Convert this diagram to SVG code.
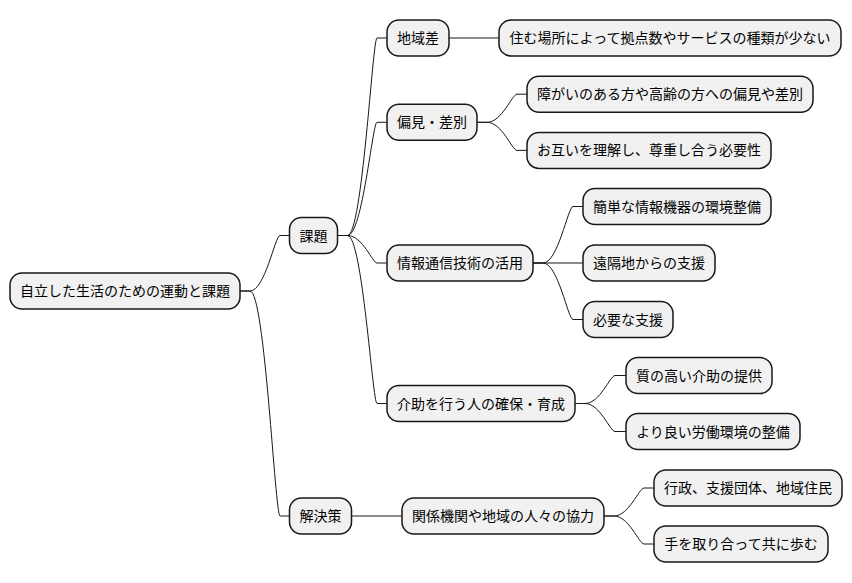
<svg xmlns="http://www.w3.org/2000/svg" width="852" height="583" viewBox="0 0 852 583">
<style>
rect.n{fill:#F1F1F1;stroke:#181818;stroke-width:1.5}
text{font-family:"Noto Sans CJK JP","Noto Sans",sans-serif;font-size:14px;fill:#000;text-anchor:middle}
#connectors path{fill:none;stroke:#181818;stroke-width:1}
</style>
<rect width="852" height="583" fill="#FFFFFF"/>
<g id="connectors">
<path d="M240,291 L250,291 C265,291 275,235.5 280,235.5 L289.5,235.5"/>
<path d="M240,291 L250,291 C265,291 275,516 280,516 L289.5,516"/>
<path d="M337.5,235.5 L347.5,235.5 C362.5,235.5 372.5,38 377,38 L387,38"/>
<path d="M337.5,235.5 L347.5,235.5 C362.5,235.5 372.5,122.3 377,122.3 L387,122.3"/>
<path d="M337.5,235.5 L347.5,235.5 C362.5,235.5 372.5,263 377,263 L387,263"/>
<path d="M337.5,235.5 L347.5,235.5 C362.5,235.5 372.5,403.5 377,403.5 L387,403.5"/>
<path d="M351.5,516 L402,516"/>
<path d="M449,38 L499,38"/>
<path d="M477,122.3 L487,122.3 C502,122.3 512,94.2 517,94.2 L527,94.2"/>
<path d="M477,122.3 L487,122.3 C502,122.3 512,150.4 517,150.4 L527,150.4"/>
<path d="M533,263 L543,263 C558,263 568,206.5 573,206.5 L583,206.5"/>
<path d="M533,263 L583,263"/>
<path d="M533,263 L543,263 C558,263 568,319.5 573,319.5 L583,319.5"/>
<path d="M575,403.5 L585,403.5 C600,403.5 610,375.5 615,375.5 L626,375.5"/>
<path d="M575,403.5 L585,403.5 C600,403.5 610,431.5 615,431.5 L626,431.5"/>
<path d="M604,516 L614,516 C629,516 639,488 644,488 L654,488"/>
<path d="M604,516 L614,516 C629,516 639,544 644,544 L654,544"/>
</g>
<g id="root"><rect class="n" x="10" y="273" width="230" height="36" rx="12"/><text x="125" y="296">自立した生活のための運動と課題</text></g>
<g id="kadai"><rect class="n" x="289.5" y="217.5" width="48" height="36" rx="12"/><text x="313.5" y="240.5">課題</text></g>
<g id="kaiketsu"><rect class="n" x="289.5" y="498" width="62" height="36" rx="12"/><text x="320.5" y="521">解決策</text></g>
<g id="chiikisa"><rect class="n" x="387" y="20" width="62" height="36" rx="12"/><text x="418" y="43">地域差</text></g>
<g id="henken"><rect class="n" x="387" y="104.3" width="90" height="36" rx="12"/><text x="432" y="127.3">偏見・差別</text></g>
<g id="joho"><rect class="n" x="387" y="245" width="146" height="36" rx="12"/><text x="460" y="268">情報通信技術の活用</text></g>
<g id="kaijo"><rect class="n" x="387" y="385.5" width="188" height="36" rx="12"/><text x="481" y="408.5">介助を行う人の確保・育成</text></g>
<g id="kankei"><rect class="n" x="402" y="498" width="202" height="36" rx="12"/><text x="503" y="521">関係機関や地域の人々の協力</text></g>
<g id="sumu"><rect class="n" x="499" y="20" width="342" height="36" rx="12"/><text x="670" y="43">住む場所によって拠点数やサービスの種類が少ない</text></g>
<g id="shogai"><rect class="n" x="527" y="76.2" width="286" height="36" rx="12"/><text x="670" y="99.2">障がいのある方や高齢の方への偏見や差別</text></g>
<g id="otagai"><rect class="n" x="527" y="132.4" width="244" height="36" rx="12"/><text x="649" y="155.4">お互いを理解し、尊重し合う必要性</text></g>
<g id="kantan"><rect class="n" x="583" y="188.5" width="188" height="36" rx="12"/><text x="677" y="211.5">簡単な情報機器の環境整備</text></g>
<g id="enkaku"><rect class="n" x="583" y="245" width="132" height="36" rx="12"/><text x="649" y="268">遠隔地からの支援</text></g>
<g id="hitsuyo"><rect class="n" x="583" y="301.5" width="90" height="36" rx="12"/><text x="628" y="324.5">必要な支援</text></g>
<g id="shitsu"><rect class="n" x="626" y="357.5" width="146" height="36" rx="12"/><text x="699" y="380.5">質の高い介助の提供</text></g>
<g id="yori"><rect class="n" x="626" y="413.5" width="174" height="36" rx="12"/><text x="713" y="436.5">より良い労働環境の整備</text></g>
<g id="gyosei"><rect class="n" x="654" y="470" width="188" height="36" rx="12"/><text x="748" y="493">行政、支援団体、地域住民</text></g>
<g id="te"><rect class="n" x="654" y="526" width="174" height="36" rx="12"/><text x="741" y="549">手を取り合って共に歩む</text></g>
</svg>
